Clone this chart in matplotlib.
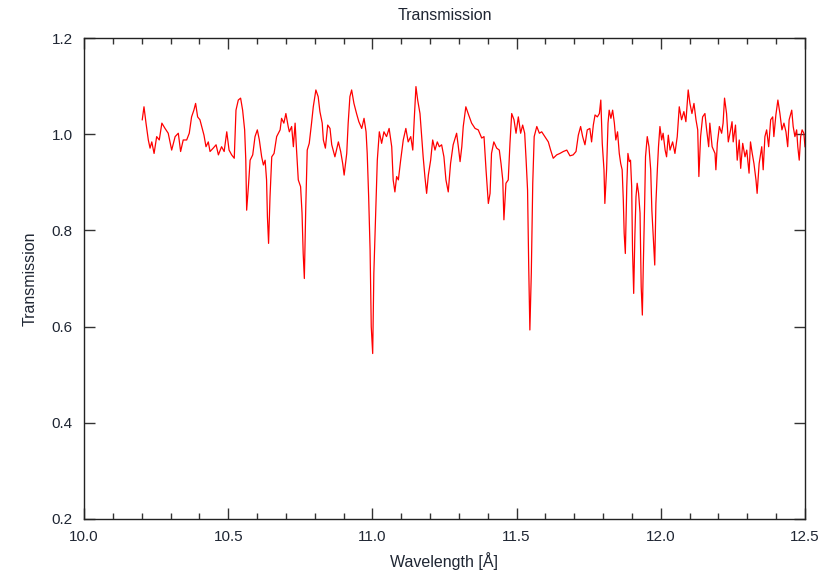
import matplotlib
matplotlib.use("Agg")
import matplotlib.pyplot as plt
from matplotlib.ticker import MultipleLocator

plt.rcParams['font.family'] = ['Liberation Sans', 'DejaVu Sans']

wavelength = [
    10.202, 10.208, 10.215, 10.223, 10.229, 10.235, 10.243, 10.252, 10.261, 10.270,
    10.281, 10.292, 10.304, 10.316, 10.327, 10.335, 10.344, 10.356, 10.365, 10.373,
    10.381, 10.387, 10.394, 10.402, 10.408, 10.416, 10.423, 10.431, 10.437, 10.448,
    10.458, 10.466, 10.477, 10.486, 10.495, 10.503, 10.512, 10.521, 10.527, 10.535,
    10.543, 10.550, 10.557, 10.561, 10.564, 10.570, 10.576, 10.585, 10.593, 10.601,
    10.608, 10.616, 10.622, 10.628, 10.633, 10.636, 10.640, 10.645, 10.651, 10.659,
    10.668, 10.680, 10.685, 10.693, 10.700, 10.708, 10.712, 10.720, 10.726, 10.732,
    10.737, 10.743, 10.751, 10.756, 10.760, 10.764, 10.769, 10.774, 10.781, 10.789,
    10.795, 10.804, 10.812, 10.818, 10.826, 10.830, 10.837, 10.845, 10.853, 10.859,
    10.870, 10.882, 10.890, 10.897, 10.902, 10.911, 10.916, 10.922, 10.928, 10.936,
    10.945, 10.953, 10.963, 10.971, 10.978, 10.982, 10.987, 10.992, 10.996, 11.001,
    11.005, 11.011, 11.017, 11.024, 11.032, 11.040, 11.049, 11.058, 11.067, 11.072,
    11.078, 11.084, 11.090, 11.098, 11.107, 11.116, 11.124, 11.133, 11.140, 11.145,
    11.151, 11.157, 11.165, 11.171, 11.176, 11.182, 11.188, 11.194, 11.202, 11.209,
    11.217, 11.225, 11.232, 11.240, 11.248, 11.255, 11.263, 11.271, 11.280, 11.292,
    11.298, 11.304, 11.310, 11.315, 11.324, 11.332, 11.344, 11.356, 11.367, 11.379,
    11.387, 11.394, 11.402, 11.408, 11.413, 11.421, 11.431, 11.440, 11.446, 11.452,
    11.456, 11.463, 11.471, 11.477, 11.483, 11.491, 11.498, 11.506, 11.514, 11.521,
    11.528, 11.533, 11.538, 11.542, 11.546, 11.551, 11.556, 11.561, 11.570, 11.579,
    11.587, 11.598, 11.610, 11.618, 11.627, 11.639, 11.650, 11.662, 11.674, 11.685,
    11.696, 11.706, 11.714, 11.722, 11.729, 11.737, 11.745, 11.754, 11.760, 11.766,
    11.772, 11.780, 11.787, 11.792, 11.797, 11.803, 11.806, 11.812, 11.817, 11.821,
    11.827, 11.833, 11.839, 11.844, 11.850, 11.856, 11.861, 11.866, 11.870, 11.873,
    11.877, 11.882, 11.886, 11.891, 11.895, 11.899, 11.902, 11.906, 11.910, 11.914,
    11.918, 11.923, 11.928, 11.932, 11.936, 11.939, 11.944, 11.947, 11.953, 11.959,
    11.965, 11.969, 11.974, 11.979, 11.983, 11.988, 11.992, 11.997, 12.003, 12.008,
    12.015, 12.020, 12.026, 12.032, 12.041, 12.049, 12.057, 12.064, 12.072, 12.080,
    12.087, 12.095, 12.101, 12.108, 12.115, 12.122, 12.128, 12.132, 12.138, 12.145,
    12.153, 12.159, 12.166, 12.170, 12.178, 12.188, 12.191, 12.196, 12.203, 12.211,
    12.216, 12.221, 12.228, 12.234, 12.242, 12.247, 12.251, 12.259, 12.265, 12.272,
    12.277, 12.284, 12.292, 12.298, 12.306, 12.311, 12.317, 12.323, 12.330, 12.334,
    12.341, 12.350, 12.355, 12.361, 12.367, 12.374, 12.381, 12.388, 12.392, 12.399,
    12.406, 12.413, 12.420, 12.427, 12.434, 12.440, 12.445, 12.454, 12.459, 12.465,
    12.471, 12.475, 12.480, 12.485, 12.490, 12.496, 12.500,
]

transmission = [
    1.030, 1.057, 1.023, 0.988, 0.971, 0.984, 0.960, 0.995, 0.988, 1.023,
    1.012, 1.002, 0.967, 0.995, 1.002, 0.964, 0.988, 0.988, 1.002, 1.036,
    1.050, 1.064, 1.036, 1.030, 1.016, 0.998, 0.974, 0.984, 0.964, 0.971,
    0.978, 0.957, 0.974, 0.964, 1.005, 0.967, 0.957, 0.950, 1.050, 1.071,
    1.075, 1.050, 1.009, 0.946, 0.842, 0.891, 0.946, 0.957, 0.995, 1.009,
    0.988, 0.953, 0.936, 0.946, 0.905, 0.828, 0.773, 0.870, 0.953, 0.960,
    0.995, 1.009, 1.033, 1.023, 1.043, 1.016, 1.005, 1.016, 0.974, 1.023,
    0.967, 0.905, 0.891, 0.836, 0.752, 0.700, 0.849, 0.967, 0.981, 1.023,
    1.057, 1.092, 1.078, 1.047, 1.023, 0.988, 0.971, 1.019, 1.012, 0.978,
    0.953, 0.984, 0.964, 0.939, 0.915, 0.960, 1.023, 1.078, 1.092, 1.064,
    1.043, 1.026, 1.012, 1.033, 1.005, 0.960, 0.870, 0.759, 0.600, 0.544,
    0.711, 0.828, 0.946, 1.005, 0.981, 1.005, 0.995, 1.012, 0.974, 0.905,
    0.880, 0.912, 0.905, 0.946, 0.988, 1.012, 0.984, 0.995, 0.967, 1.030,
    1.099, 1.071, 1.043, 0.995, 0.953, 0.912, 0.877, 0.915, 0.946, 0.988,
    0.967, 0.984, 0.974, 0.978, 0.953, 0.905, 0.880, 0.939, 0.978, 1.002,
    0.974, 0.943, 0.974, 1.016, 1.057, 1.043, 1.023, 1.012, 1.009, 0.992,
    0.995, 0.926, 0.856, 0.877, 0.960, 0.984, 0.971, 0.967, 0.939, 0.905,
    0.822, 0.898, 0.905, 0.981, 1.043, 1.030, 1.002, 1.036, 1.002, 1.019,
    1.002, 0.946, 0.884, 0.725, 0.593, 0.711, 0.898, 0.995, 1.016, 1.002,
    1.005, 0.995, 0.984, 0.967, 0.950, 0.957, 0.960, 0.964, 0.967, 0.955,
    0.957, 0.964, 0.998, 1.016, 0.995, 0.978, 1.009, 1.012, 0.984, 1.019,
    1.040, 1.036, 1.043, 1.071, 0.981, 0.926, 0.856, 0.926, 1.023, 1.050,
    1.033, 1.050, 1.023, 0.988, 1.005, 0.960, 0.939, 0.926, 0.863, 0.794,
    0.752, 0.891, 0.960, 0.943, 0.946, 0.891, 0.759, 0.669, 0.787, 0.870,
    0.898, 0.877, 0.836, 0.683, 0.624, 0.718, 0.856, 0.953, 0.995, 0.974,
    0.926, 0.842, 0.787, 0.728, 0.856, 0.926, 0.974, 1.016, 0.988, 1.002,
    0.967, 0.953, 0.998, 0.967, 0.984, 0.960, 0.995, 1.057, 1.030, 1.047,
    1.026, 1.092, 1.064, 1.043, 1.064, 1.030, 1.009, 0.912, 0.995, 1.036,
    1.043, 1.009, 0.974, 1.023, 0.974, 0.960, 0.926, 0.981, 1.016, 1.002,
    1.023, 1.075, 1.043, 0.984, 1.009, 1.026, 0.984, 1.019, 0.946, 0.988,
    0.929, 0.981, 0.953, 0.967, 0.919, 0.984, 0.960, 0.939, 0.905, 0.877,
    0.939, 0.974, 0.926, 0.995, 1.009, 0.974, 1.030, 1.036, 0.995, 1.040,
    1.071, 1.043, 1.009, 1.023, 1.005, 0.974, 1.030, 1.050, 1.016, 0.995,
    1.009, 0.974, 0.946, 0.995, 1.009, 1.002, 0.974,
]

title = "Transmission"
xlabel = "Wavelength [Å]"
ylabel = "Transmission"

text_color = "#1f2633"

fig = plt.figure(figsize=(8.36, 5.70), dpi=100)
ax = fig.add_axes([84 / 836, 51 / 570, 721 / 836, 481 / 570])

ax.plot(wavelength, transmission, color="#ff0000", linewidth=0.9)

ax.set_xlim(10.0, 12.5)
ax.set_ylim(0.2, 1.2)
ax.xaxis.set_major_locator(MultipleLocator(0.5))
ax.xaxis.set_minor_locator(MultipleLocator(0.1))
ax.yaxis.set_major_locator(MultipleLocator(0.2))
ax.xaxis.set_major_formatter(matplotlib.ticker.FormatStrFormatter("%.1f"))
ax.yaxis.set_major_formatter(matplotlib.ticker.FormatStrFormatter("%.1f"))

ax.tick_params(which="both", direction="in", top=True, right=True,
               color="#333333", width=1.0, labelcolor=text_color, labelsize=11)
ax.tick_params(which="major", length=8)
ax.tick_params(which="minor", length=4)
ax.tick_params(axis="y", pad=8)
ax.tick_params(axis="x", pad=8)

for s in ax.spines.values():
    s.set_color("#222222")
    s.set_linewidth(1.0)

ax.set_title(title, fontsize=11.5, color=text_color, pad=13)
ax.set_xlabel(xlabel, fontsize=11.5, color=text_color, labelpad=6)
ax.set_ylabel(ylabel, fontsize=11.5, color=text_color, labelpad=10)

fig.savefig("out.png", dpi=100)
